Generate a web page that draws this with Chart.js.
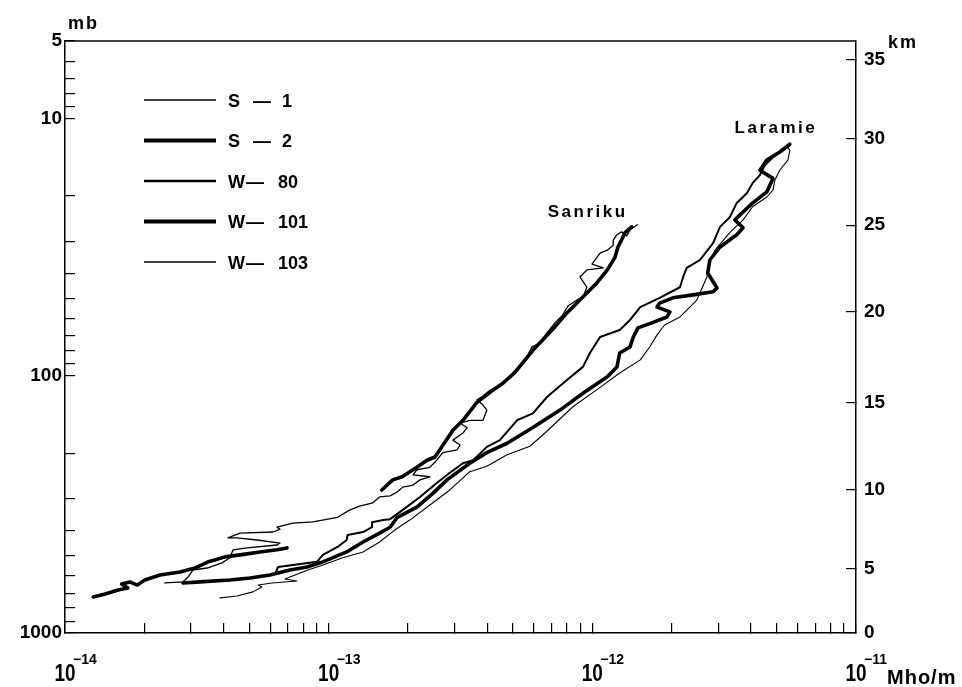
<!DOCTYPE html>
<html>
<head>
<meta charset="utf-8">
<script src="https://cdn.jsdelivr.net/npm/chart.js@4.4.1/dist/chart.umd.min.js"></script>
<style>
  html, body { margin: 0; padding: 0; background: #fff; }
</style>
</head>
<body>
<canvas id="profileChart" width="962" height="687"></canvas>
<script>
// conductivity (Mho/m) against pressure (mb)
const s1 = [
  [2.39e-14, 639], [2.80e-14, 633], [2.93e-14, 606], [3.06e-14, 569], [3.46e-14, 559], [3.94e-14, 534],
  [4.22e-14, 510], [4.34e-14, 475], [4.90e-14, 467], [6.37e-14, 455], [6.54e-14, 447], [5.35e-14, 435],
  [4.49e-14, 427], [4.15e-14, 427], [4.61e-14, 409], [6.15e-14, 405], [6.54e-14, 395], [6.37e-14, 388],
  [7.32e-14, 374], [8.72e-14, 370], [1.08e-13, 355], [1.20e-13, 333], [1.31e-13, 321], [1.47e-13, 312],
  [1.56e-13, 296], [1.71e-13, 293], [1.82e-13, 283], [1.91e-13, 271], [2.09e-13, 266], [2.22e-13, 254],
  [2.42e-13, 247], [2.09e-13, 243], [2.16e-13, 232], [2.42e-13, 227], [2.57e-13, 213], [2.71e-13, 199],
  [3.07e-13, 194], [3.15e-13, 186], [2.96e-13, 178], [3.23e-13, 167], [3.35e-13, 159], [3.15e-13, 153],
  [3.43e-13, 149], [3.85e-13, 149], [3.98e-13, 136], [3.85e-13, 130], [3.65e-13, 124], [3.85e-13, 120],
  [4.09e-13, 114], [4.46e-13, 109], [5.00e-13, 97.6], [5.65e-13, 84.5], [5.90e-13, 77.3], [6.33e-13, 74.6],
  [6.73e-13, 68.2], [7.21e-13, 62.3], [7.67e-13, 58.6], [8.08e-13, 53.6], [8.74e-13, 50.8], [9.21e-13, 49.4],
  [9.54e-13, 45.3], [8.97e-13, 41.3], [9.54e-13, 38.8], [1.10e-12, 38.1], [9.97e-13, 36.8], [1.07e-12, 33.4],
  [1.14e-12, 32.5], [1.20e-12, 31.1], [1.20e-12, 29.7], [1.24e-12, 28.3], [1.29e-12, 27.6], [1.35e-12, 28.6],
  [1.39e-12, 27.1], [1.48e-12, 25.9]
];
// S-2 has a gap between about 470 and 280 mb
const s2 = [
  [1.28e-14, 724], [1.42e-14, 705], [1.59e-14, 680], [1.73e-14, 668], [1.64e-14, 645], [1.76e-14, 633],
  [1.88e-14, 651], [2.01e-14, 622], [2.29e-14, 595], [2.73e-14, 579], [3.11e-14, 559], [3.49e-14, 529],
  [3.70e-14, 520], [4.04e-14, 506], [4.61e-14, 497], [5.49e-14, 484], [6.37e-14, 475], [6.95e-14, 467],
  null,
  [1.59e-13, 278], [1.75e-13, 254], [1.90e-13, 247], [2.16e-13, 227], [2.36e-13, 213], [2.53e-13, 207],
  [2.64e-13, 194], [2.96e-13, 163], [3.23e-13, 149], [3.65e-13, 127], [4.09e-13, 116], [4.58e-13, 107],
  [5.09e-13, 97], [5.55e-13, 87], [6.06e-13, 78], [6.61e-13, 71], [7.21e-13, 64.6], [8.01e-13, 57],
  [8.97e-13, 50.8], [1.04e-12, 43.6], [1.14e-12, 38.8], [1.22e-12, 34.6], [1.25e-12, 31.6], [1.29e-12, 29.7],
  [1.33e-12, 27.8], [1.41e-12, 26.4]
];
const w80 = [
  [6.26e-14, 590], [6.43e-14, 554], [7.32e-14, 544], [9.03e-14, 529], [9.51e-14, 497], [1.08e-13, 463],
  [1.17e-13, 435], [1.18e-13, 416], [1.35e-13, 405], [1.46e-13, 388], [1.46e-13, 371], [1.61e-13, 364],
  [1.71e-13, 361], [1.95e-13, 327], [2.22e-13, 296], [2.57e-13, 261], [2.81e-13, 243], [3.23e-13, 219],
  [3.53e-13, 213], [3.98e-13, 189], [4.46e-13, 178], [5.18e-13, 149], [5.95e-13, 140], [6.73e-13, 121],
  [8.01e-13, 104], [9.21e-13, 92.4], [9.79e-13, 81.6], [1.07e-12, 70.7], [1.27e-12, 66.4], [1.39e-12, 60.7],
  [1.52e-12, 54.1], [1.80e-12, 49.8], [2.15e-12, 45.3], [2.21e-12, 41.3], [2.28e-12, 38.1], [2.56e-12, 35.5],
  [2.87e-12, 30.5], [3.05e-12, 26.4], [3.32e-12, 24.2], [3.53e-12, 21.3], [3.86e-12, 19.5], [4.06e-12, 17.8],
  [4.32e-12, 16.6], [4.51e-12, 15.2], [4.93e-12, 13.9], [5.52e-12, 12.9]
];
const w101 = [
  [2.80e-14, 639], [3.25e-14, 633], [4.22e-14, 622], [5.03e-14, 611], [5.99e-14, 595], [7.13e-14, 569],
  [8.28e-14, 554], [9.51e-14, 529], [1.17e-13, 484], [1.35e-13, 443], [1.56e-13, 409], [1.71e-13, 388],
  [1.82e-13, 355], [2.16e-13, 324], [2.49e-13, 286], [2.81e-13, 254], [3.43e-13, 219], [3.98e-13, 199],
  [4.75e-13, 183], [5.95e-13, 159], [7.54e-13, 136], [9.21e-13, 117], [1.14e-12, 101], [1.24e-12, 92.4],
  [1.27e-12, 81.6], [1.39e-12, 77.3], [1.43e-12, 70.7], [1.49e-12, 65.2], [1.68e-12, 62.3], [1.92e-12, 59.1],
  [1.97e-12, 56.5], [1.76e-12, 54.1], [1.80e-12, 52.2], [2.02e-12, 49.8], [2.41e-12, 48.5], [2.87e-12, 47.2],
  [2.97e-12, 45.6], [2.74e-12, 39.9], [2.79e-12, 35.5], [3.05e-12, 31.6], [3.53e-12, 28.3], [3.73e-12, 26.6],
  [3.47e-12, 24.8], [3.63e-12, 23.7], [4.06e-12, 21.3], [4.59e-12, 19.3], [4.84e-12, 17.1], [4.32e-12, 15.9],
  [4.59e-12, 14.5], [5.14e-12, 13.5], [5.61e-12, 12.6]
];
const w103 = [
  [3.87e-14, 730], [4.49e-14, 718], [5.16e-14, 692], [5.58e-14, 662], [5.40e-14, 651], [6.10e-14, 639],
  [7.58e-14, 628], [6.83e-14, 617], [7.13e-14, 606], [8.35e-14, 569], [9.51e-14, 544], [1.13e-13, 510],
  [1.35e-13, 484], [1.56e-13, 443], [1.78e-13, 398], [2.03e-13, 364], [2.42e-13, 318], [2.88e-13, 278],
  [3.43e-13, 236], [3.98e-13, 225], [4.75e-13, 203], [5.80e-13, 188], [6.61e-13, 167], [8.44e-13, 132],
  [1.07e-12, 111], [1.27e-12, 97.6], [1.52e-12, 86.8], [1.65e-12, 77.3], [1.76e-12, 69.4], [1.88e-12, 63.5],
  [2.15e-12, 59.1], [2.49e-12, 50.8], [2.72e-12, 41.3], [2.79e-12, 35.5], [2.92e-12, 32.5], [3.32e-12, 27.8],
  [3.73e-12, 24.8], [4.06e-12, 22.0], [4.59e-12, 20.2], [4.84e-12, 19.0], [4.93e-12, 17.3], [5.14e-12, 15.9],
  [5.52e-12, 14.5], [5.61e-12, 13.3], [5.47e-12, 12.8]
];

const seriesLetters = ['S', 'S', 'W', 'W', 'W'];
const seriesNumbers = ['1', '2', '80', '101', '103'];

// axes
const xDecades = [-14, -13, -12, -11];
const pressureLabels = [5, 10, 100, 1000];
const kmLabels = [0, 5, 10, 15, 20, 25, 30, 35];
const kmPressure = [1000, 564, 278, 127, 56.2, 26.0, 11.96, 5.9];   // pressure level of each km tick

// site labels [conductivity, pressure]
const siteNames = ['Sanriku', 'Laramie'];
const sitePos = [[9.6e-13, 24.2], [4.97e-12, 11.35]];

const FONT = '"Liberation Sans", Arial, Helvetica, sans-serif';

const multiples = [1, 2, 3, 4, 5, 6, 7, 8, 9];
const xTickValues = [];
xDecades.slice(0, -1).forEach(e => multiples.forEach(m => xTickValues.push(m * Math.pow(10, e))));
xTickValues.push(Math.pow(10, xDecades[xDecades.length - 1]));
const yTickValues = [5, 6, 7, 8, 9];
[10, 100].forEach(d => multiples.forEach(m => yTickValues.push(m * d)));
yTickValues.push(1000);

const toPoints = arr => arr.map(p => p ? {x: p[0], y: p[1]} : {x: null, y: null});

const lineSet = (label, arr, width) => ({
  label: label,
  data: toPoints(arr),
  showLine: true,
  borderColor: '#000',
  backgroundColor: '#000',
  borderWidth: width,
  pointRadius: 0,
  tension: 0,
  spanGaps: false,
  borderJoinStyle: 'round',
  borderCapStyle: 'round'
});

const decorations = {
  id: 'decorations',
  afterDraw(chart) {
    const {ctx, chartArea: a, scales} = chart;
    ctx.save();
    ctx.strokeStyle = '#000';
    ctx.fillStyle = '#000';

    // top frame line
    ctx.lineWidth = 1.5;
    ctx.beginPath();
    ctx.moveTo(a.left, a.top);
    ctx.lineTo(a.right, a.top);
    ctx.stroke();

    // decade labels under the x axis
    xDecades.forEach(e => {
      const px = scales.x.getPixelForValue(Math.pow(10, e));
      ctx.save();
      ctx.translate(px, 681);
      ctx.scale(1, 1.3);
      ctx.font = 'bold 19px ' + FONT;
      ctx.textAlign = 'center';
      ctx.fillText('10', 0, 0);
      ctx.restore();
      ctx.font = 'bold 14px ' + FONT;
      ctx.textAlign = 'left';
      ctx.fillText('\u2212' + Math.abs(e), px + 8, 664);
    });
    ctx.font = 'bold 20px ' + FONT;
    ctx.textAlign = 'left';
    ctx.letterSpacing = '1px';
    ctx.fillText('Mho/m', a.right + 31, 684);

    // axis units
    ctx.font = 'bold 18px ' + FONT;
    ctx.letterSpacing = '2px';
    ctx.fillText('mb', a.left + 3, 29);
    ctx.fillText('km', a.right + 32, 48);

    // site names
    ctx.font = 'bold 17px ' + FONT;
    ctx.letterSpacing = '2.5px';
    ctx.textAlign = 'center';
    siteNames.forEach((name, i) => {
      ctx.fillText(name, scales.x.getPixelForValue(sitePos[i][0]), scales.y.getPixelForValue(sitePos[i][1]));
    });

    // legend
    ctx.letterSpacing = '0px';
    ctx.textAlign = 'left';
    ctx.font = 'bold 18px ' + FONT;
    chart.data.datasets.forEach((ds, i) => {
      const y = a.top + 59 + 40.5 * i;
      ctx.lineWidth = ds.borderWidth + 0.4;
      ctx.lineCap = 'butt';
      ctx.beginPath();
      ctx.moveTo(a.left + 79, y);
      ctx.lineTo(a.left + 151, y);
      ctx.stroke();
      const isS = seriesLetters[i] === 'S';
      ctx.fillText(seriesLetters[i], a.left + 163, y + 6.5);
      ctx.fillText('\u2014', a.left + (isS ? 188 : 181), y + 6.5);
      ctx.fillText(seriesNumbers[i], a.left + (isS ? 217 : 213), y + 6.5);
    });
    ctx.restore();
  }
};

const axisGrid = {drawOnChartArea: false, drawTicks: true, tickLength: -10, color: '#000', lineWidth: 1.2};
const axisBorder = {display: true, color: '#000', width: 1.5};
const tickFont = {family: FONT, size: 19, weight: 'bold'};

const ctx = document.getElementById('profileChart').getContext('2d');
const profileChart = new Chart(ctx, {
  type: 'scatter',
  data: {
    datasets: [
      lineSet('S-1', s1, 1.3),
      lineSet('S-2', s2, 3.6),
      lineSet('W-80', w80, 2),
      lineSet('W-101', w101, 3.6),
      lineSet('W-103', w103, 1.1)
    ]
  },
  options: {
    responsive: false,
    animation: false,
    events: [],
    layout: {padding: {top: 41, left: 0, right: 0, bottom: 0}},
    plugins: {legend: {display: false}, tooltip: {enabled: false}},
    scales: {
      x: {
        type: 'logarithmic',
        position: 'bottom',
        min: 1e-14,
        max: 1e-11,
        afterBuildTicks: s => { s.ticks = xTickValues.map(v => ({value: v})); },
        afterFit: s => { s.height = 54; },
        ticks: {display: false, autoSkip: false},
        grid: axisGrid,
        border: axisBorder
      },
      y: {
        type: 'logarithmic',
        position: 'left',
        reverse: true,
        min: 5,
        max: 1000,
        afterBuildTicks: s => { s.ticks = yTickValues.map(v => ({value: v})); },
        afterFit: s => { s.width = 65; },
        ticks: {
          autoSkip: false,
          padding: 13,
          color: '#000',
          font: tickFont,
          callback: v => pressureLabels.includes(Math.round(v)) ? String(Math.round(v)) : ''
        },
        grid: axisGrid,
        border: axisBorder
      },
      yKm: {
        type: 'logarithmic',
        position: 'right',
        reverse: true,
        min: 5,
        max: 1000,
        afterBuildTicks: s => { s.ticks = kmPressure.map(v => ({value: v})); },
        afterFit: s => { s.width = 106; },
        ticks: {
          autoSkip: false,
          padding: 18,
          color: '#000',
          font: tickFont,
          callback: (v, i) => String(kmLabels[i])
        },
        grid: axisGrid,
        border: axisBorder
      }
    }
  },
  plugins: [decorations]
});
</script>
</body>
</html>
